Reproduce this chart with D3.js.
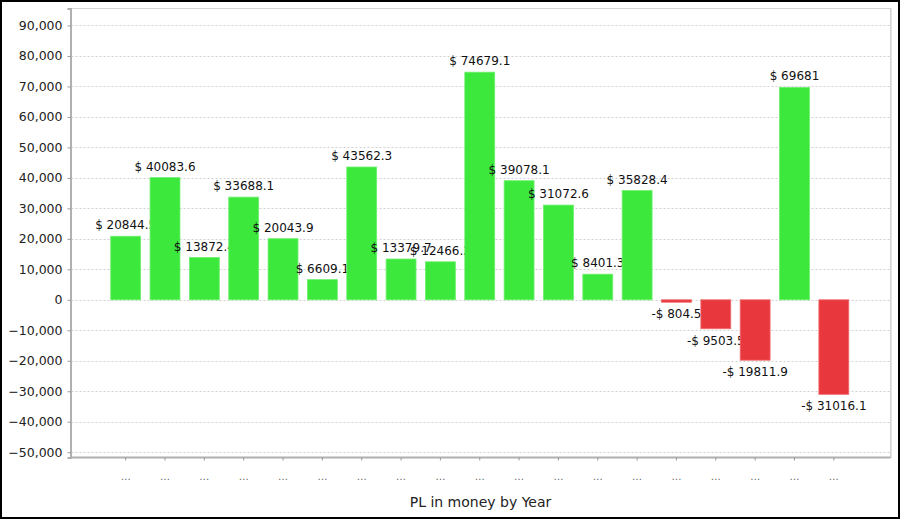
<!DOCTYPE html>
<html><head><meta charset="utf-8">
<script src="https://cdn.jsdelivr.net/npm/d3@7"></script>
<style>html,body{margin:0;padding:0;background:#fff;overflow:hidden}</style>
</head><body>
<svg id="chart" width="900" height="519"></svg>
<script>
const categories = ["…","…","…","…","…","…","…","…","…","…","…","…","…","…","…","…","…","…","…"];
const values = [20844.5, 40083.6, 13872.4, 33688.1, 20043.9, 6609.1, 43562.3, 13379.7, 12466.2, 74679.1, 39078.1, 31072.6, 8401.3, 35828.4, -804.5, -9503.5, -19811.9, 69681, -31016.1];
const yTicks = [-50000,-40000,-30000,-20000,-10000,0,10000,20000,30000,40000,50000,60000,70000,80000,90000];
const xTitle = "PL in money by Year";

const svg = d3.select("#chart");
const W = 900, H = 519;
const plot = {left: 70.5, top: 8.5, right: 890.5, bottom: 457.5};
const font = "'DejaVu Sans', sans-serif";

svg.append("rect").attr("x",1).attr("y",1).attr("width",W-2).attr("height",H-2)
  .attr("fill","#fff").attr("stroke","#000").attr("stroke-width",2);

const y = d3.scaleLinear().domain([-51740, 95570]).range([plot.bottom, plot.top]);
const idx = categories.map((c,i)=>i);
const x = d3.scaleBand().domain(idx).range([plot.left + 35.5, plot.right - 37]).paddingInner(0.24).paddingOuter(0.12);

// plot frame
svg.append("rect").attr("x",plot.left).attr("y",plot.top)
  .attr("width",plot.right-plot.left).attr("height",plot.bottom-plot.top)
  .attr("fill","#fff").attr("stroke","#d4d4d4").attr("stroke-width",1);
svg.append("line").attr("x1",plot.right+1).attr("x2",plot.right+1).attr("y1",plot.top).attr("y2",plot.bottom+1)
  .attr("stroke","#e4e4e4");

// gridlines
svg.append("g").selectAll("line").data(yTicks).join("line")
  .attr("x1",plot.left+1).attr("x2",plot.right)
  .attr("y1",d=>Math.round(y(d))+0.5).attr("y2",d=>Math.round(y(d))+0.5)
  .attr("stroke","#d0d0d0").attr("stroke-dasharray","2,2");

// y axis
const yAxis = d3.axisLeft(y).tickValues(yTicks).tickSize(3).tickPadding(5)
  .tickFormat(d3.format(","));
const gy = svg.append("g").attr("transform",`translate(${plot.left},0)`).call(yAxis);
gy.select(".domain").attr("stroke","#b0b0b0").attr("stroke-width",2);
gy.selectAll(".tick line").attr("stroke","#999");
gy.selectAll(".tick text").attr("font-family",font).attr("font-size",12.5).attr("fill","#222");

// x axis
const xAxis = d3.axisBottom(x).tickSize(3).tickPadding(12).tickFormat(i=>categories[i]);
const gx = svg.append("g").attr("transform",`translate(0,${plot.bottom})`).call(xAxis);
gx.select(".domain").attr("stroke","#b0b0b0").attr("stroke-width",2).attr("d",`M${plot.left},0H${plot.right}`);
gx.selectAll(".tick line").attr("stroke","#999");
gx.selectAll(".tick text").attr("font-family",font).attr("font-size",10).attr("fill","#666");

// bars and labels (drawn in sequence so later bars cover earlier labels)
const fmt = v => (v<0?"-$ ":"$ ") + String(Math.abs(v));
const g = svg.append("g");
values.forEach((v,i)=>{
  const y0 = y(0), y1 = y(v);
  g.append("rect")
    .attr("x",x(i)).attr("width",x.bandwidth())
    .attr("y",Math.min(y0,y1)).attr("height",Math.abs(y1-y0))
    .attr("fill", v>=0 ? "#3de83d" : "#e8383d")
    .attr("stroke", v>=0 ? "#6cf06c" : "#f06a6e").attr("stroke-width",0.8);
  g.append("text")
    .attr("x",x(i)+x.bandwidth()/2)
    .attr("y", v>=0 ? y1-7 : y1+16)
    .attr("text-anchor","middle")
    .attr("font-family",font).attr("font-size",12).attr("fill","#111")
    .text(fmt(v));
});

svg.append("text").attr("x",(plot.left+plot.right)/2).attr("y",507)
  .attr("text-anchor","middle").attr("font-family",font).attr("font-size",14).attr("fill","#222")
  .text(xTitle);
</script>
</body></html>
